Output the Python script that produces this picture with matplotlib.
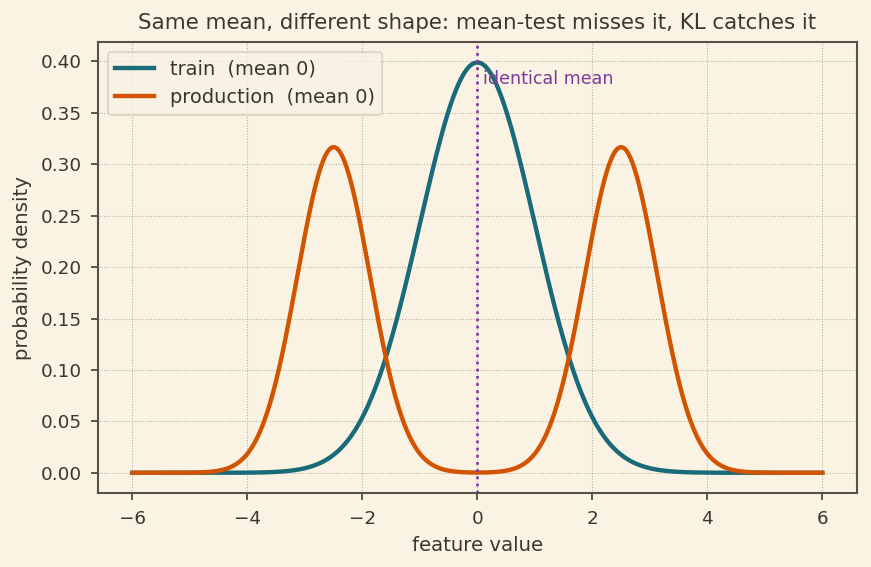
import numpy as np
import matplotlib
matplotlib.use("Agg")
import matplotlib.pyplot as plt

# distribution parameters
train_mean, train_sd = 0.0, 1.0
prod_means = [-2.5, 2.5]
prod_sd = 0.63
prod_weights = [0.5, 0.5]
x_min, x_max = -6, 6


def normal_pdf(x, mu, sd):
    return np.exp(-0.5 * ((x - mu) / sd) ** 2) / (sd * np.sqrt(2 * np.pi))


x = np.linspace(x_min, x_max, 1000)
train = normal_pdf(x, train_mean, train_sd)
prod = sum(w * normal_pdf(x, m, prod_sd) for m, w in zip(prod_means, prod_weights))

bg = "#faf3e3"
txt = "#3b3630"
plt.rcParams.update({
    "font.family": "DejaVu Sans",
    "text.color": txt,
    "axes.labelcolor": txt,
    "xtick.color": txt,
    "ytick.color": txt,
})

fig, ax = plt.subplots(figsize=(5.807, 3.78), dpi=150)
fig.patch.set_facecolor(bg)
ax.set_facecolor(bg)

ax.plot(x, train, color="#1a6b7a", lw=2.1, label="train  (mean 0)")
ax.plot(x, prod, color="#d35400", lw=2.1, label="production  (mean 0)")
ax.axvline(0, color="#7d3c98", ls=":", lw=1.3)
ax.text(0.1, 0.383, "identical mean", color="#7d3c98", fontsize=8.4, va="center")

ax.grid(True, ls=":", lw=0.5, color="#b5ae9e")
for s in ax.spines.values():
    s.set_color("#5a5045")
    s.set_linewidth(1.0)
ax.tick_params(labelsize=8.8, length=3.5, width=0.9, pad=4.3, color="#5a5045")

ax.set_title("Same mean, different shape: mean-test misses it, KL catches it", fontsize=10.25)
ax.set_xlabel("feature value", fontsize=9.5)
ax.set_ylabel("probability density", fontsize=9.5)
leg = ax.legend(loc="upper left", fontsize=9.3, facecolor="#f7f2e4", edgecolor="#d8d2c2")

fig.subplots_adjust(left=0.1125, right=0.9836, bottom=0.13, top=0.926)
fig.savefig("out.png", facecolor=bg)
